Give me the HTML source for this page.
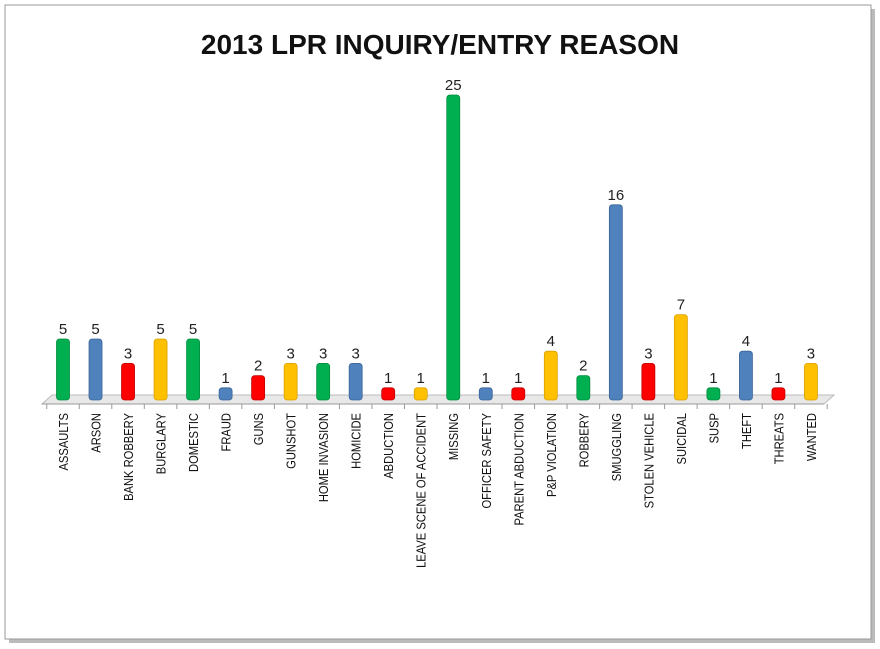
<!DOCTYPE html>
<html><head><meta charset="utf-8">
<style>
html,body{margin:0;padding:0;background:#fff;width:880px;height:649px;overflow:hidden}
svg text{font-family:"Liberation Sans",sans-serif}
</style></head>
<body>
<svg width="880" height="649" viewBox="0 0 880 649">
<rect x="9" y="9" width="866" height="634" fill="#bbb"/>
<rect x="5" y="5" width="866" height="634" fill="#fff" stroke="#999" stroke-width="1"/>
<text x="440" y="54" text-anchor="middle" font-size="28" font-weight="bold" fill="#111">2013 LPR INQUIRY/ENTRY REASON</text>
<g id="floor">
<polygon points="42,404 52,395 834,395 824,404" fill="#e8e8e8" stroke="#bbb" stroke-width="1"/>
<line x1="42" y1="404" x2="824" y2="404" stroke="#999"/>
</g>
<g id="bars"></g>
</svg>
<script>
const categories=["ASSAULTS","ARSON","BANK ROBBERY","BURGLARY","DOMESTIC","FRAUD","GUNS","GUNSHOT","HOME INVASION","HOMICIDE","ABDUCTION","LEAVE SCENE OF ACCIDENT","MISSING","OFFICER SAFETY","PARENT ABDUCTION","P&P VIOLATION","ROBBERY","SMUGGLING","STOLEN VEHICLE","SUICIDAL","SUSP","THEFT","THREATS","WANTED"];
const values=[5,5,3,5,5,1,2,3,3,3,1,1,25,1,1,4,2,16,3,7,1,4,1,3];
const colorKeys=["g","b","r","y","g","b","r","y","g","b","r","y","g","b","r","y","g","b","r","y","g","b","r","y"];
const palette={g:"#00b050",b:"#4f81bd",r:"#ff0000",y:"#ffc000"};
const dark={g:"#008a3e",b:"#3a6496",r:"#c00000",y:"#d9a000"};
const x0=63,step=32.52,base=400,unit=12.2,bw=13;
const xs=i=>x0+i*step, ys=v=>base-v*unit;
const ns="http://www.w3.org/2000/svg";
const g=document.getElementById("bars");
for(let i=0;i<=categories.length;i++){
  const t=document.createElementNS(ns,"line");
  const tx=xs(i)-step/2;
  t.setAttribute("x1",tx);t.setAttribute("x2",tx);t.setAttribute("y1",404);t.setAttribute("y2",409);
  t.setAttribute("stroke","#999");
  
  
  g.appendChild(t);
}
values.forEach((v,i)=>{
  const cx=xs(i),top=ys(v),k=colorKeys[i];
  const r=document.createElementNS(ns,"rect");
  r.setAttribute("x",cx-bw/2);r.setAttribute("y",top);r.setAttribute("width",bw);r.setAttribute("height",base-top);
  r.setAttribute("rx",3);r.setAttribute("fill",palette[k]);r.setAttribute("stroke",dark[k]);r.setAttribute("stroke-width","0.8");
  
  
  g.appendChild(r);
  const lv=document.createElementNS(ns,"text");
  lv.setAttribute("x",cx);lv.setAttribute("y",top-5);lv.setAttribute("text-anchor","middle");
  lv.setAttribute("font-size","15");lv.setAttribute("fill","#222");
  lv.textContent=v;
  
  
  g.appendChild(lv);
  const cl=document.createElementNS(ns,"text");
  cl.setAttribute("transform","translate("+(cx+5)+",413) rotate(-90) scale(0.86,1)");
  cl.setAttribute("text-anchor","end");cl.setAttribute("font-size","13");cl.setAttribute("fill","#111");
  cl.textContent=categories[i];
  
  
  g.appendChild(cl);
});
</script>
</body></html>
